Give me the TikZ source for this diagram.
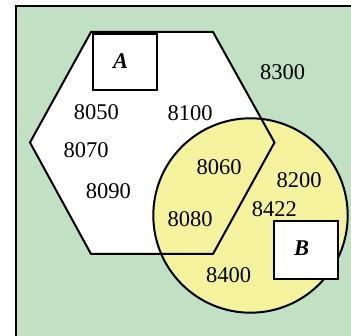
\documentclass[tikz,border=0pt]{standalone}
\usepackage{fontspec}
\setmainfont{Liberation Serif}
\definecolor{bggreen}{RGB}{194,224,196}
\definecolor{setyellow}{RGB}{244,242,156}
\begin{document}
\begin{tikzpicture}[x=1pt,y=-1pt,
  lbl/.style={font=\fontsize{22.5}{26}\selectfont, inner sep=0pt},
  boxlbl/.style={font=\fontsize{22.5}{26}\selectfont\bfseries\itshape, inner sep=0pt},
  outl/.style={line width=2pt, line join=miter}]
\useasboundingbox (0,0) rectangle (351,336);
\clip (0,0) rectangle (351,336);
\fill[white] (0,0) rectangle (351,336);
\draw[fill=bggreen, line width=2pt] (16,6) rectangle (380,360);
% hexagon
\fill[white] (91,32) -- (213,32) -- (274.5,142.5) -- (213,254) -- (91,254) -- (30,142.5) -- cycle;
% circle
\fill[setyellow] (250.5,215.5) circle[radius=97.2];
\draw[outl] (250.5,215.5) circle[radius=97.2];
\draw[outl] (91,32) -- (213,32) -- (274.5,142.5) -- (213,254) -- (91,254) -- (30,142.5) -- cycle;
% boxes
\node[draw, line width=1.6pt, fill=white, minimum width=63.5pt, minimum height=56pt, inner sep=0pt] (boxA) at (125,62) {};
\node[boxlbl] (labA) at (120.7,61) {A};
\node[draw, line width=1.6pt, fill=white, minimum width=64pt, minimum height=58pt, inner sep=0pt] (boxB) at (306,250) {};
\node[boxlbl] (labB) at (301.7,248.3) {B};
% labels
\node[lbl] (n8300) at (282.7,72.3) {8300};
\node[lbl] (n8050) at (96.3,112) {8050};
\node[lbl] (n8100) at (190,113.3) {8100};
\node[lbl] (n8070) at (86,150) {8070};
\node[lbl] (n8090) at (108.3,191) {8090};
\node[lbl] (n8060) at (219,166.7) {8060};
\node[lbl] (n8200) at (299,180) {8200};
\node[lbl] (n8422) at (274.3,209) {8422};
\node[lbl] (n8080) at (190,219.3) {8080};
\node[lbl] (n8400) at (228.7,275.3) {8400};
\end{tikzpicture}
\end{document}
